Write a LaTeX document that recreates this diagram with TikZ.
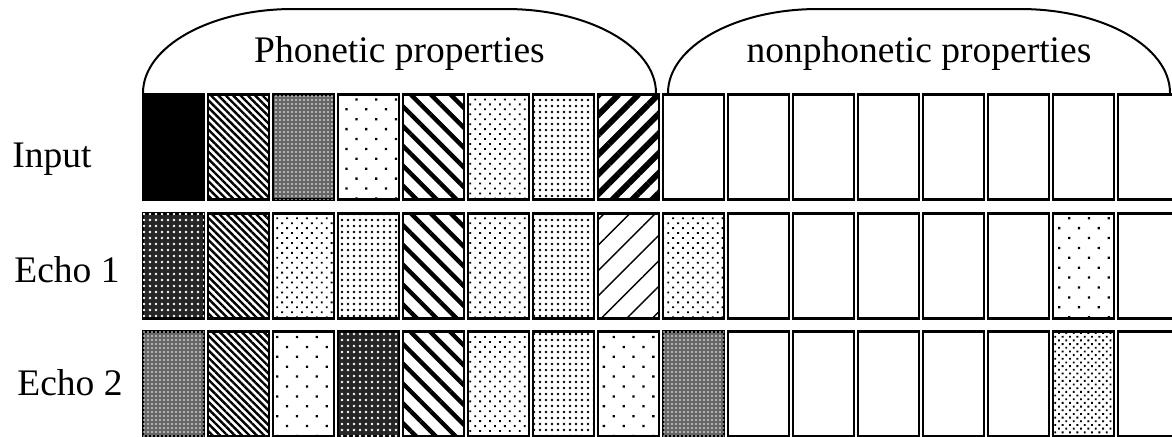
\documentclass[tikz,border=0pt]{standalone}
\usepackage{fontspec}
\setmainfont{Liberation Serif}
\newfontfamily\labelfont{Liberation Serif}
\usetikzlibrary{patterns.meta}

\begin{document}
\begin{tikzpicture}[x=0.5pt, y=-0.5pt,
                    lbl/.style={font=\labelfont\fontsize{18.75pt}{22pt}\selectfont, inner sep=0pt},
                    hump/.style={line width=1pt},
                    cell/.style={draw, line width=1.1pt, inner sep=0pt,
                                 minimum width=30.5pt, minimum height=52.5pt},
                    tnone/.style={},
                    tblack/.style={fill=black},
                    tgray/.style={fill=black!60,
                                  postaction={pattern={Dots[distance=2pt,radius=0.4pt]}, pattern color=white}},
                    tdark/.style={fill=black!85,
                                  postaction={pattern={Dots[distance=3pt,radius=0.7pt]}, pattern color=white}},
                    tfine/.style={pattern={Lines[angle=-45,distance=2.6pt,line width=1.2pt]}},
                    twide/.style={pattern={Lines[angle=-45,distance=7pt,line width=2.2pt]}},
                    trise/.style={pattern={Lines[angle=45,distance=7pt,line width=3pt]}},
                    tthin/.style={pattern={Lines[angle=45,distance=9pt,line width=0.7pt]}},
                    tsparse/.style={pattern={Dots[angle=45,distance=7pt,radius=0.8pt]}},
                    tmedium/.style={pattern={Dots[angle=45,distance=3.5pt,radius=0.65pt]}},
                    tgrid/.style={pattern={Dots[distance=3pt,radius=0.7pt]}},
                    tdense/.style={pattern={Dots[angle=45,distance=2.6pt,radius=0.65pt]}}]
  \useasboundingbox (0,0) rectangle (1172,436);

  \draw[hump] (143,93) .. controls (143,46.6) and (210.2,9) .. (293,9) -- (506,9)
    .. controls (588.8,9) and (656,46.6) .. (656,93);
  \draw[hump] (668,93) .. controls (668,46.6) and (735.2,9) .. (818,9) -- (1020,9)
    .. controls (1102.8,9) and (1170,46.6) .. (1170,93);
  \node[lbl, anchor=base] (phon) at (399.5,62) {Phonetic properties};
  \node[lbl, anchor=base] (nonphon) at (919,62) {nonphonetic properties};

  \node[lbl, anchor=base west] (input) at (12,167) {Input};
  \node[lbl, anchor=base west] (echoA) at (14,282) {Echo 1};
  \node[lbl, anchor=base west] (echoB) at (17,395) {Echo 2};

  \foreach \t [count=\i] in {tblack,tfine,tgray,tsparse,twide,tmedium,tgrid,trise,
                             tnone,tnone,tnone,tnone,tnone,tnone,tnone,tnone}
    \node[cell, \t] (in-\i) at ({108.5+65*\i},147) {};
  \foreach \t [count=\i] in {tdark,tfine,tmedium,tgrid,twide,tmedium,tgrid,tthin,
                             tmedium,tnone,tnone,tnone,tnone,tnone,tsparse,tnone}
    \node[cell, \t] (ea-\i) at ({108.5+65*\i},266) {};
  \foreach \t [count=\i] in {tgray,tfine,tsparse,tdark,twide,tmedium,tgrid,tsparse,
                             tgray,tnone,tnone,tnone,tnone,tnone,tdense,tnone}
    \node[cell, \t] (eb-\i) at ({108.5+65*\i},384) {};
\end{tikzpicture}
\end{document}
